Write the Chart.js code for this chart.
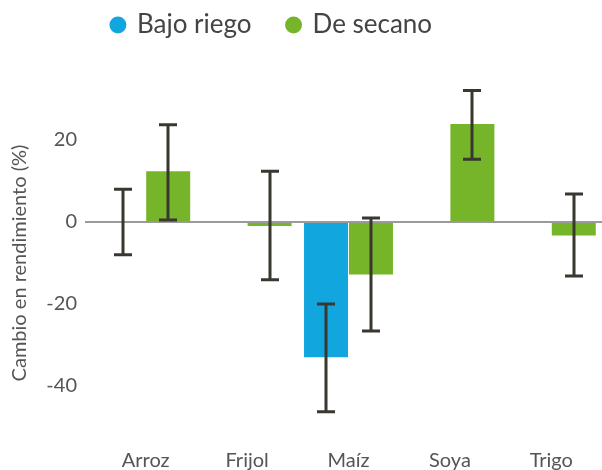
<!DOCTYPE html>
<html>
<head>
<meta charset="utf-8">
<script src="https://cdn.jsdelivr.net/npm/chart.js@4.4.0/dist/chart.umd.min.js"></script>
<style>
  html, body { margin: 0; padding: 0; background: #fff; overflow: hidden; }
  canvas { display: block; }
</style>
</head>
<body>
<canvas id="chart" width="602" height="470"></canvas>
<script>
// Data
const categories = ["Arroz", "Frijol", "Maíz", "Soya", "Trigo"];
const riegoValues = [0, null, -33, null, null];
const riegoLow = [-8, null, -46.3, null, null];
const riegoHigh = [8, null, -20, null, null];
const secanoValues = [12.4, -1, -12.8, 23.9, -3.3];
const secanoLow = [0.5, -14.1, -26.6, 15.3, -13.2];
const secanoHigh = [23.7, 12.4, 1, 32.1, 6.8];
const yTicks = [-40, -20, 0, 20];

const errLow = [riegoLow, secanoLow];
const errHigh = [riegoHigh, secanoHigh];

// Error bars
const errorBars = {
    id: "errorBars",
    afterDatasetsDraw(chart) {
        let ctx = chart.ctx;
        let y = chart.scales.y;
        ctx.save();
        ctx.strokeStyle = "#3a3731";
        ctx.lineWidth = 3;
        chart.data.datasets.forEach((ds, d) => {
            let meta = chart.getDatasetMeta(d);
            meta.data.forEach((bar, i) => {
                let lo = errLow[d][i], hi = errHigh[d][i];
                if (lo === null || hi === null) return;
                let x = Math.round(bar.x);
                let y1 = y.getPixelForValue(hi);
                let y2 = y.getPixelForValue(lo);
                ctx.beginPath();
                ctx.moveTo(x, y1); ctx.lineTo(x, y2);
                ctx.moveTo(x - 9, y1); ctx.lineTo(x + 9, y1);
                ctx.moveTo(x - 9, y2); ctx.lineTo(x + 9, y2);
                ctx.stroke();
            });
        });
        ctx.restore();
    }
};

// Legend: fixed height, shifted a bit left
const legendFix = {
    id: "legendFix",
    beforeLayout(chart) {
        let lg = chart.legend;
        if (lg && !lg._fitWrapped) {
            let fit = lg.fit;
            lg.fit = function () {
                fit.call(this);
                this.height = 82;
            };
            lg._fitWrapped = true;
        }
    },
    afterLayout(chart) {
        chart.legend.left -= 29;
        chart.legend.right -= 29;
    }
};

new Chart(document.getElementById("chart"), {
    type: "bar",
    data: {
        labels: categories,
        datasets: [
            { label: "Bajo riego", data: riegoValues, backgroundColor: "#12a6df" },
            { label: "De secano", data: secanoValues, backgroundColor: "#76b52a" }
        ]
    },
    options: {
        responsive: false,
        animation: false,
        layout: { padding: { top: -24, bottom: 2, left: 0, right: 0 } },
        datasets: { bar: { categoryPercentage: 0.887, barPercentage: 0.978 } },
        plugins: {
            tooltip: { enabled: false },
            legend: {
                labels: {
                    usePointStyle: true,
                    pointStyle: "circle",
                    boxWidth: 12,
                    boxHeight: 12,
                    padding: 36,
                    color: "#444",
                    font: { family: "Lato", size: 26 }
                }
            }
        },
        scales: {
            x: {
                grid: { display: false, drawTicks: false },
                border: { display: false },
                ticks: { color: "#555", mirror: true, padding: 0, font: { family: "Lato", size: 20, lineHeight: 0.7 } }
            },
            y: {
                min: -60,
                max: 40,
                afterBuildTicks: s => { s.ticks = yTicks.map(v => ({ value: v })); },
                afterFit: s => {
                    s.width = 95;
                    s.paddingTop = 0;
                    s.paddingBottom = 0;
                },
                border: { display: false },
                grid: {
                    color: c => c.tick && c.tick.value === 0 ? "#9a9a9a" : "transparent",
                    lineWidth: 2,
                    tickLength: 10
                },
                ticks: { color: "#555", padding: 8, font: { family: "Lato", size: 20 } },
                title: {
                    display: true,
                    text: "Cambio en rendimiento (%)",
                    color: "#555",
                    padding: 8,
                    font: { family: "Lato", size: 20 }
                }
            }
        }
    },
    plugins: [errorBars, legendFix]
});
</script>
</body>
</html>
